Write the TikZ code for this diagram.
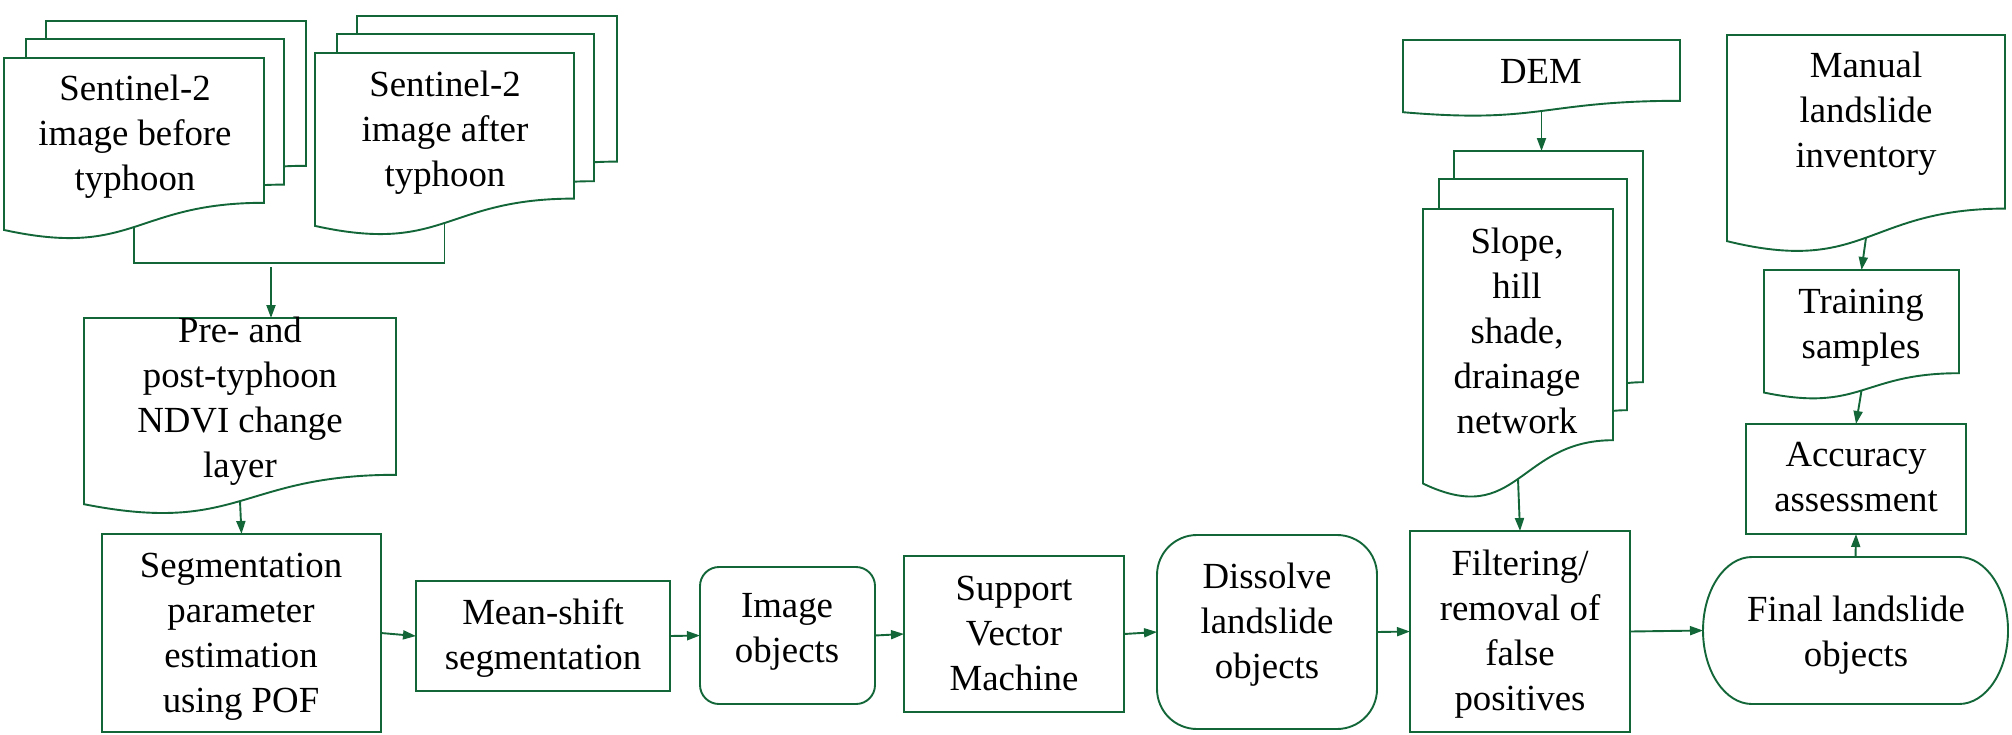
\documentclass[tikz,border=0pt]{standalone}
\usepackage{fontspec}
\setmainfont{Liberation Serif}
\usetikzlibrary{arrows.meta,calc}
\definecolor{dgreen}{RGB}{18,102,56}
\newcommand\docshape[1]{%
  \path[docline] let \p1=(#1.north west), \p2=(#1.south east) in
    (\x1,\y1) -- (\x2,\y1) -- (\x2,{\y1+0.8*(\y2-\y1)})
    .. controls ({0.5*(\x1+\x2)},{\y1+0.8*(\y2-\y1)}) and ({0.5*(\x1+\x2)},{\y1+1.1075*(\y2-\y1)}) .. (\x1,{\y1+0.95*(\y2-\y1)}) -- cycle;}
\begin{document}
\begin{tikzpicture}[x=1pt,y=-1pt,
  line/.style={draw=dgreen, line width=1.9pt},
  docline/.style={draw=dgreen, line width=1.9pt, fill=white, line join=miter},
  box/.style={draw=dgreen, line width=1.9pt, fill=white, rectangle, inner sep=0pt, outer sep=0pt},
  docnode/.style={rectangle, draw=none, inner sep=0pt, outer sep=0pt},
  txt/.style={font=\fontsize{36.8}{45}\selectfont, align=center, inner sep=0pt},
  arr/.style={draw=dgreen, line width=1.9pt, -{Triangle[length=13pt,width=9pt]}}]
\useasboundingbox (0,0) rectangle (2012,734);

% ---- document stacks and documents
\node[docnode, minimum width=260pt, minimum height=181pt] (bb) at (176,111.5) {};
\node[docnode, minimum width=258pt, minimum height=182pt] (bm) at (155,130) {};
\node[docnode, minimum width=260pt, minimum height=181pt] (bf) at (134,148.5) {};
\docshape{bb}\docshape{bm}\docshape{bf}
\node[docnode, minimum width=260pt, minimum height=182pt] (ab) at (487,107) {};
\node[docnode, minimum width=257pt, minimum height=184pt] (am) at (465.5,126) {};
\node[docnode, minimum width=259pt, minimum height=182pt] (af) at (444.5,144) {};
\docshape{ab}\docshape{am}\docshape{af}
\node[docnode, minimum width=312pt, minimum height=196pt] (pre) at (240,416) {};
\docshape{pre}
\node[docnode, minimum width=277pt, minimum height=76pt] (dem) at (1541.5,78) {};
\docshape{dem}
\node[docnode, minimum width=189pt, minimum height=289pt] (sb) at (1548.5,295.5) {};
\node[docnode, minimum width=188pt, minimum height=289pt] (sm) at (1533,323.5) {};
\node[docnode, minimum width=190pt, minimum height=289pt] (sf) at (1518,353.5) {};
\docshape{sb}\docshape{sm}\docshape{sf}
\node[docnode, minimum width=278pt, minimum height=217pt] (man) at (1866,143.5) {};
\docshape{man}
\node[docnode, minimum width=195pt, minimum height=129pt] (trn) at (1861.5,334.5) {};
\docshape{trn}

% ---- process boxes
\node[box, minimum width=279pt, minimum height=198pt] (seg) at (241.5,633) {};
\node[box, minimum width=254pt, minimum height=110pt] (mean) at (543,636) {};
\node[box, rounded corners=19pt, minimum width=175pt, minimum height=137pt] (img) at (787.5,635.5) {};
\node[box, minimum width=220pt, minimum height=156pt] (svm) at (1014,634) {};
\node[box, rounded corners=40pt, minimum width=220pt, minimum height=194pt] (dis) at (1267,632) {};
\node[box, minimum width=220pt, minimum height=201pt] (filt) at (1520,631.5) {};
\node[docnode, minimum width=305pt, minimum height=147pt] (final) at (1855.5,630.5) {};
\draw[line, fill=white] ([xshift=49pt]final.north west) -- ([xshift=-49pt]final.north east)
  arc[start angle=90, end angle=-90, x radius=49pt, y radius=73.5pt]
  -- ([xshift=49pt]final.south west)
  arc[start angle=270, end angle=90, x radius=49pt, y radius=73.5pt] -- cycle;
\node[box, minimum width=220pt, minimum height=110pt] (acc) at (1856,479) {};

% ---- texts
\node[txt] (bf-t) at (135,137) {Sentinel-2\\image before\\typhoon};
\node[txt] (af-t) at (445,133) {Sentinel-2\\image after\\typhoon};
\node[txt] (pre-t) at (240,401) {Pre- and\\post-typhoon\\NDVI change\\layer};
\node[txt, anchor=base] (dem-t) at (1541,83) {DEM};
\node[txt] (sf-t) at (1517,331) {Slope,\\hill\\shade,\\drainage\\network};
\node[txt] (man-t) at (1866,114) {Manual\\landslide\\inventory};
\node[txt] (trn-t) at (1861,328) {Training\\samples};
\node[txt] (seg-t) at (241,637) {Segmentation\\parameter\\estimation\\using POF};
\node[txt] (mean-t) at (543,638) {Mean-shift\\segmentation};
\node[txt] (img-t) at (787,632) {Image\\objects};
\node[txt] (svm-t) at (1014,633) {Support\\Vector\\Machine};
\node[txt] (dis-t) at (1267,625) {Dissolve\\landslide\\objects};
\node[txt] (filt-t) at (1520,634) {Filtering/\\removal of\\false\\positives};
\node[txt] (final-t) at (1856,635) {Final landslide\\objects};
\node[txt] (acc-t) at (1856,477) {Accuracy\\assessment};

% ---- wave points of documents
\coordinate (bf-w) at ($(bf.north)!0.934!(bf.south)$);
\coordinate (af-w) at ($(af.north)!0.934!(af.south)$);
\coordinate (pre-w) at ($(pre.north)!0.934!(pre.south)$);
\coordinate (dem-w) at ($(dem.north)!0.934!(dem.south)$);
\coordinate (sf-w) at ($(sf.north)!0.934!(sf.south)$);
\coordinate (man-w) at ($(man.north)!0.934!(man.south)$);
\coordinate (trn-w) at ($(trn.north)!0.934!(trn.south)$);
\coordinate (brk) at (271,263);
\coordinate (brk-s) at (271,267);

% ---- connectors
\draw[line] (bf-w) |- (brk) -| (af-w);
\draw[arr] (brk-s) -- (brk-s |- pre.north);
\draw[arr] (pre-w) -- (seg.north);
\draw[arr] (seg.east) -- (mean.west);
\draw[arr] (mean.east) -- (img.west);
\draw[arr] (img.east) -- (svm.west);
\draw[arr] (svm.east) -- (dis.west);
\draw[arr] (dis.east) -- (filt.west);
\draw[arr] (filt.east) -- (final.west);
\draw[arr] (dem-w) -- (dem-w |- sb.north);
\draw[arr] (sf-w) -- (filt.north);
\draw[arr] (final.north) -- (acc.south);
\draw[arr] (trn-w) -- (acc.north);
\draw[arr] (man-w) -- (trn.north);
\end{tikzpicture}
\end{document}
